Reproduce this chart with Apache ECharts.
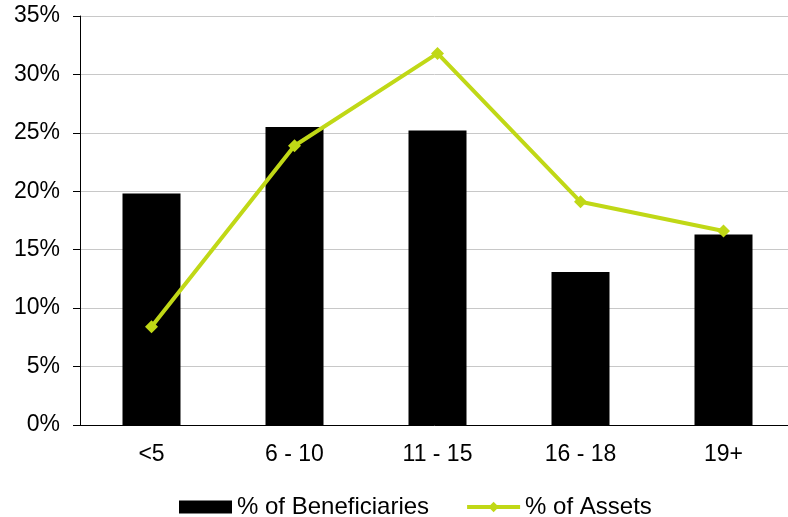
<!DOCTYPE html>
<html>
<head>
<meta charset="utf-8">
<script src="https://cdn.jsdelivr.net/npm/echarts@6/dist/echarts.min.js"></script>
<style>
  html, body { margin: 0; padding: 0; background: #fff; }
  #chart { width: 788px; height: 517px; }
</style>
</head>
<body>
<div id="chart"></div>
<script>
const categories = ['<5', '6 - 10', '11 - 15', '16 - 18', '19+'];
const beneficiaries = [19.8, 25.5, 25.2, 13.1, 16.3];
const assets = [8.4, 23.9, 31.8, 19.1, 16.6];
const lineColor = '#c0d816';
const fontFam = '"Liberation Sans", Arial, sans-serif';

const chart = echarts.init(document.getElementById('chart'));
chart.setOption({
  animation: false,
  grid: { left: 80, top: 16, width: 715, height: 409, outerBoundsMode: 'none' },
  legend: {
    top: 490,
    left: 174,
    itemGap: 36,
    itemWidth: 53,
    itemHeight: 13,
    textStyle: { fontFamily: fontFam, fontSize: 24, color: '#000' },
    data: [
      { name: '% of Beneficiaries', icon: 'rect' },
      { name: '% of Assets', lineStyle: { width: 4, color: lineColor }, itemStyle: { color: lineColor } }
    ]
  },
  xAxis: {
    type: 'category',
    data: categories,
    axisLine: { lineStyle: { color: '#000', width: 1 } },
    axisTick: { alignWithLabel: true, length: 6, lineStyle: { color: '#000' } },
    axisLabel: { fontFamily: fontFam, fontSize: 23, color: '#000', margin: 18 }
  },
  yAxis: {
    type: 'value',
    min: 0,
    max: 35,
    interval: 5,
    axisLine: { show: true, lineStyle: { color: '#000', width: 1 } },
    axisTick: { show: true, length: 7, inside: false, lineStyle: { color: '#000' } },
    axisLabel: { fontFamily: fontFam, fontSize: 23, color: '#000', margin: 20, formatter: '{value}%' },
    splitLine: { lineStyle: { color: '#c8c8c8', width: 1 } }
  },
  series: [
    {
      name: '% of Beneficiaries',
      type: 'bar',
      data: beneficiaries,
      barWidth: 58,
      itemStyle: { color: '#000' }
    },
    {
      name: '% of Assets',
      type: 'line',
      data: assets,
      symbol: 'diamond',
      symbolSize: 13,
      lineStyle: { color: lineColor, width: 4 },
      itemStyle: { color: lineColor }
    }
  ]
});
</script>
</body>
</html>
